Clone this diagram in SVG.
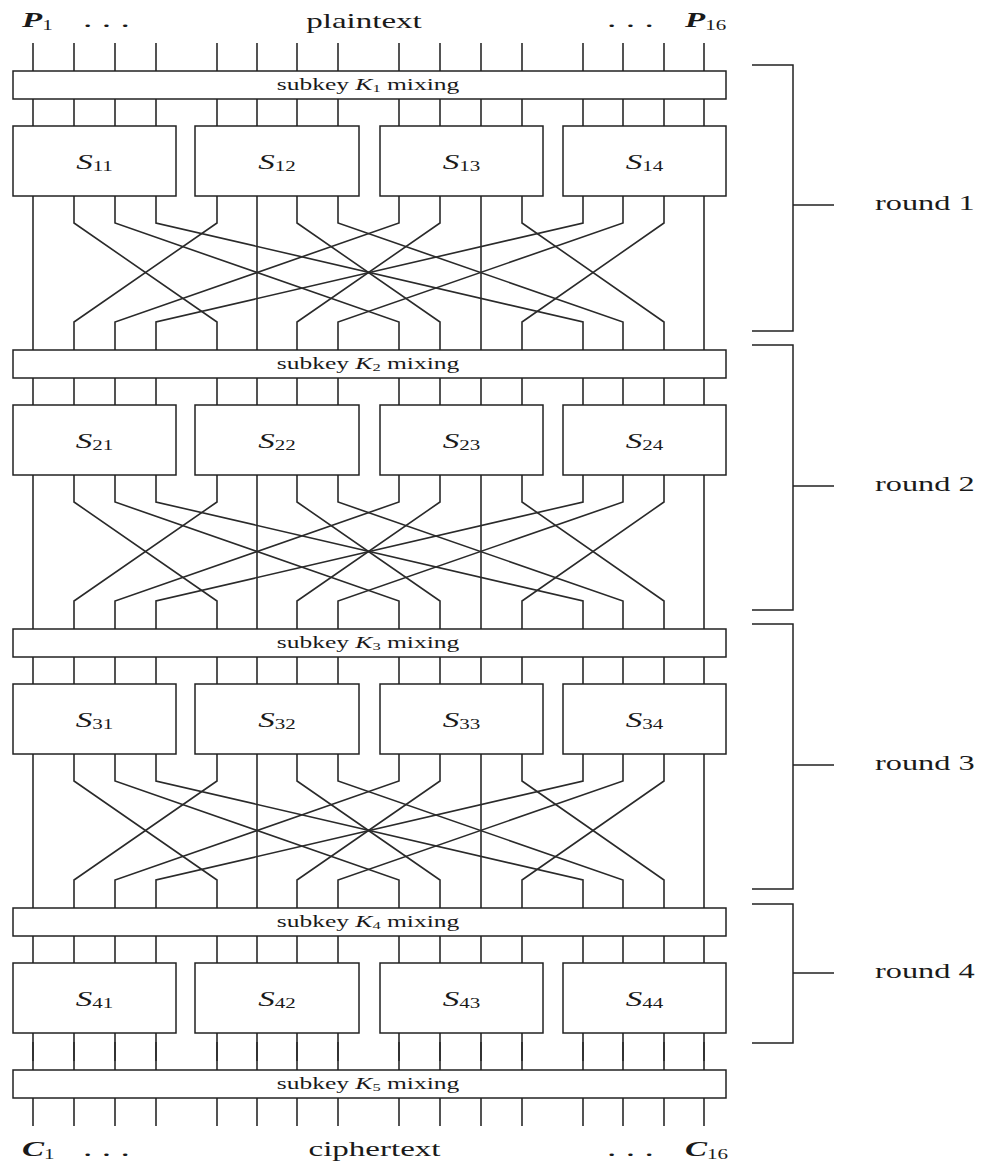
<svg xmlns="http://www.w3.org/2000/svg" width="996" height="1164" viewBox="0 0 996 1164">
<style>
.wire{fill:none;stroke:#2a2a2a;stroke-width:1.6}
.box{fill:#fff;stroke:#222;stroke-width:1.5}
.br{fill:none;stroke:#222;stroke-width:1.5}
text{font-family:"Liberation Serif","Times New Roman",serif;fill:#1a1a1a}
.k{font-size:17px}
.s{font-size:22px}
.lbl{font-size:22px}
.io{font-size:22px;font-weight:bold;font-style:italic}
.it{font-style:italic}
.sub{font-size:14px;font-style:normal;font-weight:normal}
.ksub{font-size:11px;font-style:normal}
</style>
<defs>
<path id="bus" class="wire" d="M33 0v28m41-28v28m41-28v28m41-28v28m61-28v28m40-28v28m40-28v28m41-28v28m61-28v28m41-28v28m41-28v28m41-28v28m61-28v28m40-28v28m41-28v28m40-28v28"/>
<g id="perm" class="wire">
<polyline points="33,0 33,154"/>
<polyline points="74,0 74,27 217,126 217,154"/>
<polyline points="115,0 115,27 399,126 399,154"/>
<polyline points="156,0 156,27 583,126 583,154"/>
<polyline points="217,0 217,27 74,126 74,154"/>
<polyline points="257,0 257,154"/>
<polyline points="297,0 297,27 440,126 440,154"/>
<polyline points="338,0 338,27 623,126 623,154"/>
<polyline points="399,0 399,27 115,126 115,154"/>
<polyline points="440,0 440,27 297,126 297,154"/>
<polyline points="481,0 481,154"/>
<polyline points="522,0 522,27 664,126 664,154"/>
<polyline points="583,0 583,27 156,126 156,154"/>
<polyline points="623,0 623,27 338,126 338,154"/>
<polyline points="664,0 664,27 522,126 522,154"/>
<polyline points="704,0 704,154"/>
</g>
</defs>

<g id="connectors">
<use href="#bus" y="43"/>
<use href="#bus" y="98"/>
<use href="#perm" y="196"/>
<use href="#bus" y="377"/>
<use href="#perm" y="475"/>
<use href="#bus" y="656"/>
<use href="#perm" y="754"/>
<use href="#bus" y="935"/>
<use href="#bus" y="1033"/>
<use href="#bus" y="1042"/>
<use href="#bus" y="1098"/>
</g>

<g id="io-labels">
<text class="io" transform="translate(22,27) scale(1.5,1)">P<tspan class="sub" font-size="12" dy="3">1</tspan></text>
<text class="lbl" transform="translate(83,27) scale(1.7,1)">. . .</text>
<text class="lbl" transform="translate(364,28) scale(1.5,1)" text-anchor="middle">plaintext</text>
<text class="lbl" transform="translate(607,27) scale(1.7,1)">. . .</text>
<text class="io" transform="translate(685,27) scale(1.5,1)">P<tspan class="sub" font-size="12" dy="3">16</tspan></text>
<text class="io" transform="translate(22,1156) scale(1.5,1)">C<tspan class="sub" font-size="12" dy="3">1</tspan></text>
<text class="lbl" transform="translate(83,1156) scale(1.7,1)">. . .</text>
<text class="lbl" transform="translate(374.5,1156) scale(1.5,1)" text-anchor="middle">ciphertext</text>
<text class="lbl" transform="translate(607,1156) scale(1.7,1)">. . .</text>
<text class="io" transform="translate(685,1156) scale(1.5,1)">C<tspan class="sub" font-size="12" dy="3">16</tspan></text>
</g>

<g id="K1"><rect class="box" x="13" y="71" width="713" height="28"/><text class="k" transform="translate(368,90) scale(1.5,1)" text-anchor="middle">subkey <tspan class="it">K</tspan><tspan class="ksub" dy="2">1</tspan><tspan dy="-2"> mixing</tspan></text></g>
<g id="K2"><rect class="box" x="13" y="350" width="713" height="28"/><text class="k" transform="translate(368,369) scale(1.5,1)" text-anchor="middle">subkey <tspan class="it">K</tspan><tspan class="ksub" dy="2">2</tspan><tspan dy="-2"> mixing</tspan></text></g>
<g id="K3"><rect class="box" x="13" y="629" width="713" height="28"/><text class="k" transform="translate(368,648) scale(1.5,1)" text-anchor="middle">subkey <tspan class="it">K</tspan><tspan class="ksub" dy="2">3</tspan><tspan dy="-2"> mixing</tspan></text></g>
<g id="K4"><rect class="box" x="13" y="908" width="713" height="28"/><text class="k" transform="translate(368,927) scale(1.5,1)" text-anchor="middle">subkey <tspan class="it">K</tspan><tspan class="ksub" dy="2">4</tspan><tspan dy="-2"> mixing</tspan></text></g>
<g id="K5"><rect class="box" x="13" y="1070" width="713" height="28"/><text class="k" transform="translate(368,1089) scale(1.5,1)" text-anchor="middle">subkey <tspan class="it">K</tspan><tspan class="ksub" dy="2">5</tspan><tspan dy="-2"> mixing</tspan></text></g>

<g id="S11"><rect class="box" x="13" y="126" width="163" height="70"/><text class="s" transform="translate(94.5,169) scale(1.5,1)" text-anchor="middle"><tspan class="it">S</tspan><tspan class="sub" dy="2">11</tspan></text></g>
<g id="S12"><rect class="box" x="195" y="126" width="164" height="70"/><text class="s" transform="translate(277,169) scale(1.5,1)" text-anchor="middle"><tspan class="it">S</tspan><tspan class="sub" dy="2">12</tspan></text></g>
<g id="S13"><rect class="box" x="380" y="126" width="163" height="70"/><text class="s" transform="translate(461.5,169) scale(1.5,1)" text-anchor="middle"><tspan class="it">S</tspan><tspan class="sub" dy="2">13</tspan></text></g>
<g id="S14"><rect class="box" x="563" y="126" width="163" height="70"/><text class="s" transform="translate(644.5,169) scale(1.5,1)" text-anchor="middle"><tspan class="it">S</tspan><tspan class="sub" dy="2">14</tspan></text></g>

<g id="S21"><rect class="box" x="13" y="405" width="163" height="70"/><text class="s" transform="translate(94.5,448) scale(1.5,1)" text-anchor="middle"><tspan class="it">S</tspan><tspan class="sub" dy="2">21</tspan></text></g>
<g id="S22"><rect class="box" x="195" y="405" width="164" height="70"/><text class="s" transform="translate(277,448) scale(1.5,1)" text-anchor="middle"><tspan class="it">S</tspan><tspan class="sub" dy="2">22</tspan></text></g>
<g id="S23"><rect class="box" x="380" y="405" width="163" height="70"/><text class="s" transform="translate(461.5,448) scale(1.5,1)" text-anchor="middle"><tspan class="it">S</tspan><tspan class="sub" dy="2">23</tspan></text></g>
<g id="S24"><rect class="box" x="563" y="405" width="163" height="70"/><text class="s" transform="translate(644.5,448) scale(1.5,1)" text-anchor="middle"><tspan class="it">S</tspan><tspan class="sub" dy="2">24</tspan></text></g>

<g id="S31"><rect class="box" x="13" y="684" width="163" height="70"/><text class="s" transform="translate(94.5,727) scale(1.5,1)" text-anchor="middle"><tspan class="it">S</tspan><tspan class="sub" dy="2">31</tspan></text></g>
<g id="S32"><rect class="box" x="195" y="684" width="164" height="70"/><text class="s" transform="translate(277,727) scale(1.5,1)" text-anchor="middle"><tspan class="it">S</tspan><tspan class="sub" dy="2">32</tspan></text></g>
<g id="S33"><rect class="box" x="380" y="684" width="163" height="70"/><text class="s" transform="translate(461.5,727) scale(1.5,1)" text-anchor="middle"><tspan class="it">S</tspan><tspan class="sub" dy="2">33</tspan></text></g>
<g id="S34"><rect class="box" x="563" y="684" width="163" height="70"/><text class="s" transform="translate(644.5,727) scale(1.5,1)" text-anchor="middle"><tspan class="it">S</tspan><tspan class="sub" dy="2">34</tspan></text></g>

<g id="S41"><rect class="box" x="13" y="963" width="163" height="70"/><text class="s" transform="translate(94.5,1006) scale(1.5,1)" text-anchor="middle"><tspan class="it">S</tspan><tspan class="sub" dy="2">41</tspan></text></g>
<g id="S42"><rect class="box" x="195" y="963" width="164" height="70"/><text class="s" transform="translate(277,1006) scale(1.5,1)" text-anchor="middle"><tspan class="it">S</tspan><tspan class="sub" dy="2">42</tspan></text></g>
<g id="S43"><rect class="box" x="380" y="963" width="163" height="70"/><text class="s" transform="translate(461.5,1006) scale(1.5,1)" text-anchor="middle"><tspan class="it">S</tspan><tspan class="sub" dy="2">43</tspan></text></g>
<g id="S44"><rect class="box" x="563" y="963" width="163" height="70"/><text class="s" transform="translate(644.5,1006) scale(1.5,1)" text-anchor="middle"><tspan class="it">S</tspan><tspan class="sub" dy="2">44</tspan></text></g>

<g id="round1"><path class="br" d="M752 65H793V331H752M793 205H834"/><text class="lbl" transform="translate(875,210) scale(1.47,1)">round 1</text></g>
<g id="round2"><path class="br" d="M752 345H793V610H752M793 486H834"/><text class="lbl" transform="translate(875,491) scale(1.47,1)">round 2</text></g>
<g id="round3"><path class="br" d="M752 624H793V889H752M793 765H834"/><text class="lbl" transform="translate(875,770) scale(1.47,1)">round 3</text></g>
<g id="round4"><path class="br" d="M752 904H793V1043H752M793 973H834"/><text class="lbl" transform="translate(875,978) scale(1.47,1)">round 4</text></g>
</svg>
